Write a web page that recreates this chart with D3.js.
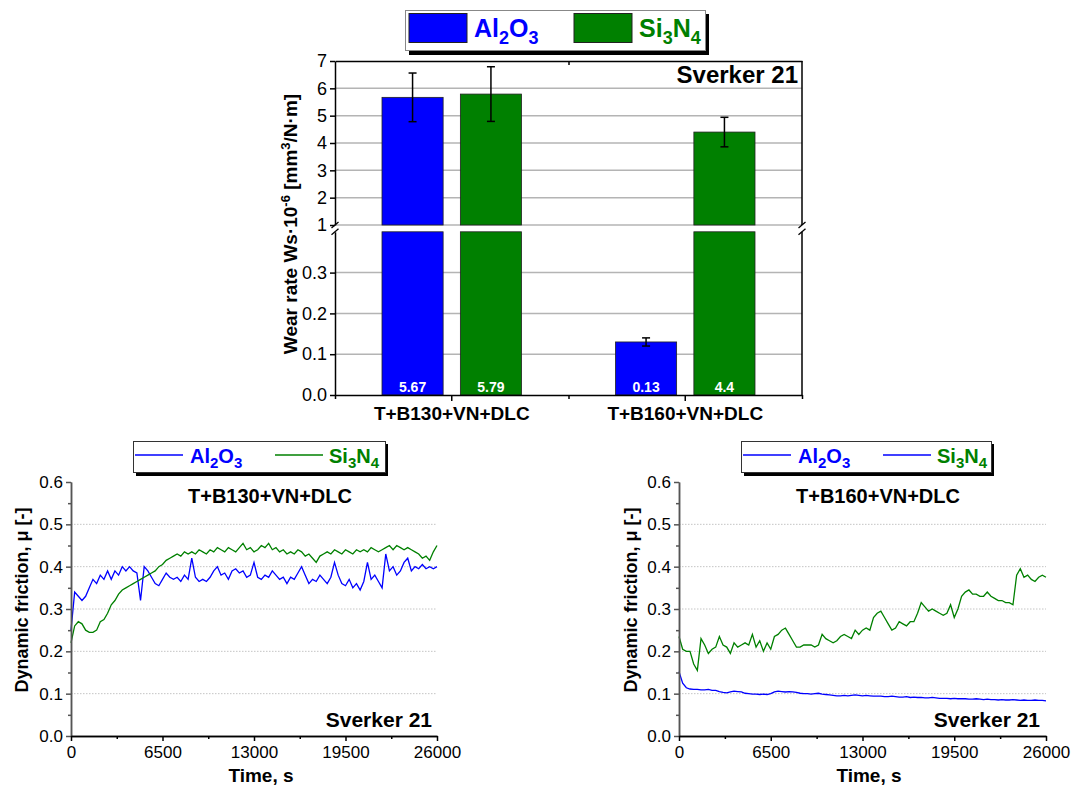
<!DOCTYPE html>
<html><head><meta charset="utf-8">
<script src="https://cdn.jsdelivr.net/npm/d3@7"></script>
<style>body{margin:0;background:#fff;} svg{display:block;font-family:"Liberation Sans",Arial,sans-serif;}</style>
</head><body><svg id="c" width="1072" height="787"></svg>
<script>
// ---------------- DATA ----------------
const categories = ["T+B130+VN+DLC", "T+B160+VN+DLC"];
const seriesNames = ["Al2O3", "Si3N4"];
const wearAl2O3 = [5.67, 0.13];
const wearSi3N4 = [5.79, 4.4];
const errAl2O3 = [0.89, 0.01];
const errSi3N4 = [1.0, 0.54];
const wearLabelsAl2O3 = ["5.67", "0.13"];
const wearLabelsSi3N4 = ["5.79", "4.4"];
const upperTicks = [1, 2, 3, 4, 5, 6, 7];
const lowerTicks = [0.0, 0.1, 0.2, 0.3];

const timeStep = 260; // s between samples
const frictionTicks = [0, 0.1, 0.2, 0.3, 0.4, 0.5, 0.6];
const frictionMinorTicks = [0.05, 0.15, 0.25, 0.35, 0.45, 0.55];
const timeTicks = [0, 6500, 13000, 19500, 26000];
const timeMinorTicks = [3250, 9750, 16250, 22750];

const fricB130Al2O3 = [0.25,0.34,0.33,0.32,0.33,0.35,0.37,0.36,0.38,0.37,
0.39,0.37,0.39,0.38,0.40,0.39,0.40,0.39,0.385,0.32,
0.40,0.39,0.375,0.36,0.355,0.37,0.385,0.375,0.37,0.375,
0.365,0.38,0.37,0.42,0.375,0.365,0.37,0.365,0.375,0.39,
0.40,0.38,0.385,0.37,0.39,0.395,0.385,0.39,0.375,0.38,
0.41,0.375,0.37,0.38,0.375,0.39,0.38,0.37,0.375,0.36,
0.375,0.37,0.385,0.40,0.38,0.36,0.37,0.365,0.38,0.37,
0.36,0.375,0.41,0.38,0.36,0.355,0.37,0.35,0.36,0.345,
0.365,0.41,0.37,0.38,0.365,0.35,0.43,0.39,0.40,0.38,
0.39,0.41,0.42,0.39,0.40,0.395,0.405,0.395,0.40,0.395,
0.40];
const fricB130Si3N4 = [0.22,0.26,0.27,0.265,0.25,0.245,0.245,0.25,0.27,0.275,
0.29,0.31,0.32,0.335,0.345,0.35,0.355,0.36,0.365,0.37,
0.375,0.38,0.385,0.39,0.40,0.405,0.415,0.42,0.425,0.43,
0.425,0.435,0.43,0.435,0.43,0.44,0.435,0.43,0.44,0.435,
0.445,0.44,0.435,0.445,0.44,0.435,0.445,0.455,0.44,0.445,
0.435,0.44,0.45,0.445,0.455,0.44,0.445,0.435,0.44,0.43,
0.435,0.43,0.44,0.435,0.425,0.43,0.42,0.41,0.425,0.43,
0.435,0.43,0.44,0.435,0.43,0.44,0.435,0.43,0.44,0.435,
0.44,0.435,0.445,0.44,0.435,0.44,0.445,0.45,0.44,0.45,
0.445,0.44,0.445,0.44,0.435,0.43,0.42,0.425,0.415,0.435,
0.45];
const fricB160Al2O3 = [0.152,0.125,0.114,0.111,0.110,0.110,0.109,0.109,0.110,0.108,
0.108,0.105,0.103,0.102,0.104,0.106,0.105,0.104,0.101,0.100,
0.099,0.099,0.098,0.099,0.098,0.100,0.104,0.106,0.105,0.104,
0.105,0.104,0.103,0.101,0.100,0.100,0.099,0.100,0.101,0.099,
0.098,0.097,0.096,0.095,0.095,0.096,0.095,0.096,0.097,0.096,
0.095,0.096,0.095,0.094,0.094,0.094,0.093,0.093,0.094,0.093,
0.092,0.092,0.093,0.091,0.092,0.091,0.091,0.090,0.090,0.091,
0.090,0.089,0.089,0.089,0.088,0.089,0.088,0.088,0.088,0.087,
0.087,0.088,0.087,0.086,0.087,0.086,0.086,0.085,0.086,0.085,
0.085,0.086,0.085,0.084,0.085,0.084,0.084,0.085,0.084,0.084,
0.083];
const fricB160Si3N4 = [0.235,0.205,0.20,0.20,0.17,0.155,0.23,0.215,0.195,0.205,
0.21,0.235,0.215,0.21,0.195,0.22,0.21,0.215,0.22,0.215,
0.24,0.21,0.225,0.20,0.22,0.205,0.235,0.24,0.25,0.255,
0.24,0.225,0.21,0.21,0.215,0.215,0.215,0.21,0.215,0.24,
0.23,0.225,0.22,0.225,0.235,0.24,0.235,0.23,0.25,0.24,
0.25,0.255,0.25,0.28,0.29,0.295,0.28,0.265,0.25,0.255,
0.27,0.265,0.26,0.27,0.27,0.29,0.315,0.305,0.295,0.30,
0.295,0.29,0.285,0.29,0.31,0.28,0.30,0.33,0.34,0.345,
0.335,0.335,0.33,0.33,0.34,0.33,0.325,0.32,0.32,0.315,
0.315,0.31,0.38,0.395,0.375,0.38,0.37,0.365,0.375,0.38,
0.375];

const BLUE = "#0000ff", GREEN = "#008000";
const legendLineColorsB130 = [BLUE, GREEN];
const legendLineColorsB160 = [BLUE, BLUE];

// ---------------- HELPERS ----------------
const svg = d3.select("#c");
function rich(sel, parts, size, small, shift) {
  let cur = 0;
  parts.forEach(([s, t]) => {
    const target = t === "sub" ? shift : t === "sup" ? -shift : 0;
    sel.append("tspan").text(s)
      .attr("dy", target - cur)
      .attr("font-size", t === "n" ? size : small);
    cur = target;
  });
  return sel;
}
const AL = [["Al","n"],["2","sub"],["O","n"],["3","sub"]];
const SI = [["Si","n"],["3","sub"],["N","n"],["4","sub"]];
function styleAxis(g, size, weight) {
  g.selectAll("text").attr("font-size", size).attr("font-weight", weight || "normal")
    .attr("fill", "#000").attr("font-family", '"Liberation Sans",Arial,sans-serif');
  g.selectAll("line,path").attr("stroke", "#000").attr("stroke-width", 1.5);
}

// ---------------- TOP BAR CHART ----------------
const T = {l: 335, r: 802, t: 61, b: 395};
const x0 = d3.scaleBand().domain(categories).range([T.l, T.r]);
const x1 = d3.scaleBand().domain(seriesNames).range([47, 186.5]).paddingInner(0.22);
const yU = d3.scaleLinear().domain([1, 7]).range([225, T.t]);
const yL = d3.scaleLinear().domain([0, 0.4]).range([T.b, 231.8]);
const barG = svg.append("g");

barG.selectAll(".gu").data(upperTicks.filter(d => d < 7)).join("line")
  .attr("x1", T.l).attr("x2", T.r).attr("y1", d => yU(d)).attr("y2", d => yU(d))
  .attr("stroke", "#b4b4b4").attr("stroke-width", 1.5);
barG.selectAll(".gl").data(lowerTicks.filter(d => d > 0)).join("line")
  .attr("x1", T.l).attr("x2", T.r).attr("y1", d => yL(d)).attr("y2", d => yL(d))
  .attr("stroke", "#b4b4b4").attr("stroke-width", 1.5);

const barRows = [];
categories.forEach((c, i) => {
  barRows.push({c, s: "Al2O3", v: wearAl2O3[i], e: errAl2O3[i], lab: wearLabelsAl2O3[i], col: BLUE});
  barRows.push({c, s: "Si3N4", v: wearSi3N4[i], e: errSi3N4[i], lab: wearLabelsSi3N4[i], col: GREEN});
});
barRows.forEach(d => {
  const bx = x0(d.c) + x1(d.s), bw = x1.bandwidth();
  if (d.v > 1) {
    barG.append("rect").attr("x", bx).attr("width", bw).attr("y", yL(0.4)).attr("height", yL(0) - yL(0.4))
      .attr("fill", d.col).attr("stroke", "#222").attr("stroke-width", 0.8);
    barG.append("rect").attr("x", bx).attr("width", bw).attr("y", yU(d.v)).attr("height", yU(1) - yU(d.v))
      .attr("fill", d.col).attr("stroke", "#222").attr("stroke-width", 0.8);
  } else {
    barG.append("rect").attr("x", bx).attr("width", bw).attr("y", yL(d.v)).attr("height", yL(0) - yL(d.v))
      .attr("fill", d.col).attr("stroke", "#222").attr("stroke-width", 0.8);
  }
  const ys = d.v > 1 ? yU : yL;
  const cx = bx + bw / 2;
  const g = barG.append("g").attr("stroke", "#000").attr("stroke-width", 1.5);
  g.append("line").attr("x1", cx).attr("x2", cx).attr("y1", ys(d.v - d.e)).attr("y2", ys(d.v + d.e));
  g.append("line").attr("x1", cx - 4).attr("x2", cx + 4).attr("y1", ys(d.v - d.e)).attr("y2", ys(d.v - d.e));
  g.append("line").attr("x1", cx - 4).attr("x2", cx + 4).attr("y1", ys(d.v + d.e)).attr("y2", ys(d.v + d.e));
  barG.append("text").attr("x", cx).attr("y", 392).attr("text-anchor", "middle")
    .attr("fill", "#fff").attr("font-weight", "bold").attr("font-size", 14).text(d.lab);
});

barG.append("g").attr("transform", `translate(${T.l},0)`)
  .call(d3.axisLeft(yU).tickValues(upperTicks).tickSize(5).tickPadding(3).tickSizeOuter(0).tickFormat(d3.format("d")))
  .call(g => styleAxis(g, 18));
barG.append("g").attr("transform", `translate(${T.l},0)`)
  .call(d3.axisLeft(yL).tickValues(lowerTicks).tickSize(5).tickPadding(3).tickSizeOuter(0).tickFormat(d3.format(".1f")))
  .call(g => styleAxis(g, 18));
barG.append("g").attr("transform", `translate(0,${T.b})`)
  .call(d3.axisBottom(x0).tickSize(6).tickPadding(6).tickSizeOuter(0))
  .call(g => styleAxis(g, 19, "bold"));
const xb = d3.scaleLinear().domain([0, 2]).range([T.l, T.r]);
barG.append("g").attr("transform", `translate(0,${T.b})`)
  .call(d3.axisBottom(xb).tickValues([0, 1, 2]).tickSize(4).tickSizeOuter(0).tickFormat(""))
  .call(g => { styleAxis(g, 10); g.select(".domain").remove(); });
barG.append("g").attr("transform", `translate(0,${T.t})`)
  .call(d3.axisBottom(xb).tickValues([1]).tickSize(4).tickSizeOuter(0).tickFormat(""))
  .call(g => styleAxis(g, 10));
[[yU(7), yU(1)], [yL(0.4), yL(0)]].forEach(([a, b]) =>
  barG.append("line").attr("x1", T.r).attr("x2", T.r).attr("y1", a).attr("y2", b).attr("stroke", "#000").attr("stroke-width", 1.5));
[T.l, T.r].forEach(xx => [yU(1), yL(0.4)].forEach(yy =>
  barG.append("line").attr("x1", xx - 3.5).attr("x2", xx + 3.5).attr("y1", yy + 3).attr("y2", yy - 3)
    .attr("stroke", "#000").attr("stroke-width", 1.3)));

barG.append("text").attr("x", 798).attr("y", 83).attr("text-anchor", "end")
  .attr("font-weight", "bold").attr("font-size", 24).text("Sverker 21");
rich(barG.append("text").attr("transform", "translate(297,224) rotate(-90)").attr("text-anchor", "middle").attr("font-weight", "bold"),
  [["Wear rate Ws·10", "n"], ["-6", "sup"], [" [mm", "n"], ["3", "sup"], ["/N·m]", "n"]], 19, 13, 7);

const lg = svg.append("g");
lg.append("rect").attr("x", 409).attr("y", 14).attr("width", 300).attr("height", 41).attr("fill", "#000");
lg.append("rect").attr("x", 405.5).attr("y", 10.5).attr("width", 300).attr("height", 40).attr("fill", "#fff").attr("stroke", "#888").attr("stroke-width", 1);
lg.append("rect").attr("x", 409).attr("y", 13.5).attr("width", 58).attr("height", 29).attr("fill", BLUE).attr("stroke", "#222");
lg.append("rect").attr("x", 574).attr("y", 13.5).attr("width", 58).attr("height", 29).attr("fill", GREEN).attr("stroke", "#222");
rich(lg.append("text").attr("x", 474).attr("y", 37).attr("fill", BLUE).attr("font-weight", "bold"), AL, 25, 18, 7);
rich(lg.append("text").attr("x", 639).attr("y", 37).attr("fill", GREEN).attr("font-weight", "bold"), SI, 25, 18, 7);

// ---------------- FRICTION CHARTS ----------------
function friction(cfg) {
  const g = svg.append("g");
  const x = d3.scaleLinear().domain([0, 26000]).range([cfg.l, cfg.r]);
  const y = d3.scaleLinear().domain([0, 0.6]).range([736, 482]);
  g.selectAll(".grid").data(frictionTicks.filter(d => d > 0 && d < 0.6)).join("line")
    .attr("x1", cfg.l).attr("x2", cfg.r).attr("y1", d => y(d)).attr("y2", d => y(d))
    .attr("stroke", "#c4c4c4").attr("stroke-width", 1).attr("stroke-dasharray", "1.5,1.5");
  const line = d3.line().x((d, i) => x(i * timeStep)).y(d => y(d));
  g.append("path").datum(cfg.al).attr("d", line).attr("fill", "none").attr("stroke", BLUE).attr("stroke-width", 1.3);
  g.append("path").datum(cfg.si).attr("d", line).attr("fill", "none").attr("stroke", GREEN).attr("stroke-width", 1.3);

  g.append("g").attr("transform", `translate(${cfg.l},0)`)
    .call(d3.axisLeft(y).tickValues(frictionMinorTicks).tickSize(3).tickFormat("").tickSizeOuter(0))
    .call(a => { styleAxis(a, 17); a.selectAll("line,path").attr("stroke", "#555"); });
  g.append("g").attr("transform", `translate(${cfg.l},0)`)
    .call(d3.axisLeft(y).tickValues(frictionTicks).tickSize(5).tickPadding(3).tickSizeOuter(0).tickFormat(d3.format(".1f")))
    .call(a => { styleAxis(a, 17); a.selectAll("line,path").attr("stroke", "#555"); });
  g.append("g").attr("transform", "translate(0,736)")
    .call(d3.axisBottom(x).tickValues(timeMinorTicks).tickSize(3).tickFormat("").tickSizeOuter(0))
    .call(a => styleAxis(a, 17));
  g.append("g").attr("transform", "translate(0,736)")
    .call(d3.axisBottom(x).tickValues(timeTicks).tickSize(5).tickPadding(5).tickSizeOuter(0).tickFormat(d3.format("d")))
    .call(a => styleAxis(a, 17));

  g.append("text").attr("x", cfg.titleX).attr("y", 503).attr("text-anchor", "middle")
    .attr("font-weight", "bold").attr("font-size", 20).text(cfg.title);
  g.append("text").attr("x", cfg.sverkerX).attr("y", 727).attr("text-anchor", "end")
    .attr("font-weight", "bold").attr("font-size", 21).text("Sverker 21");
  g.append("text").attr("x", cfg.timeX).attr("y", 782).attr("text-anchor", "middle")
    .attr("font-weight", "bold").attr("font-size", 19).text("Time, s");
  g.append("text").attr("transform", `translate(${cfg.ytX},600) rotate(-90)`).attr("text-anchor", "middle")
    .attr("font-weight", "bold").attr("font-size", 18).text("Dynamic friction, μ [-]");

  const L = cfg.leg;
  g.append("rect").attr("x", L.x + 3).attr("y", 444).attr("width", L.w).attr("height", 32).attr("fill", "#000");
  g.append("rect").attr("x", L.x + 0.5).attr("y", 441.5).attr("width", L.w).attr("height", 31).attr("fill", "#fff").attr("stroke", "#333");
  g.append("line").attr("x1", L.x + 2).attr("x2", L.x + 50).attr("y1", 455).attr("y2", 455).attr("stroke", cfg.legColors[0]).attr("stroke-width", 1.3);
  g.append("line").attr("x1", L.x + 142).attr("x2", L.x + 190).attr("y1", 455).attr("y2", 455).attr("stroke", cfg.legColors[1]).attr("stroke-width", 1.3);
  rich(g.append("text").attr("x", L.x + 57).attr("y", 463).attr("fill", BLUE).attr("font-weight", "bold"), AL, 20, 15, 5);
  rich(g.append("text").attr("x", L.x + 196).attr("y", 463).attr("fill", GREEN).attr("font-weight", "bold"), SI, 20, 15, 5);
}

friction({l: 71, r: 437, al: fricB130Al2O3, si: fricB130Si3N4, title: categories[0], titleX: 270,
  sverkerX: 432, timeX: 261, ytX: 28, leg: {x: 133, w: 252}, legColors: legendLineColorsB130});
friction({l: 679, r: 1046, al: fricB160Al2O3, si: fricB160Si3N4, title: categories[1], titleX: 878,
  sverkerX: 1040, timeX: 869, ytX: 637, leg: {x: 741, w: 250}, legColors: legendLineColorsB160});
</script></body></html>
